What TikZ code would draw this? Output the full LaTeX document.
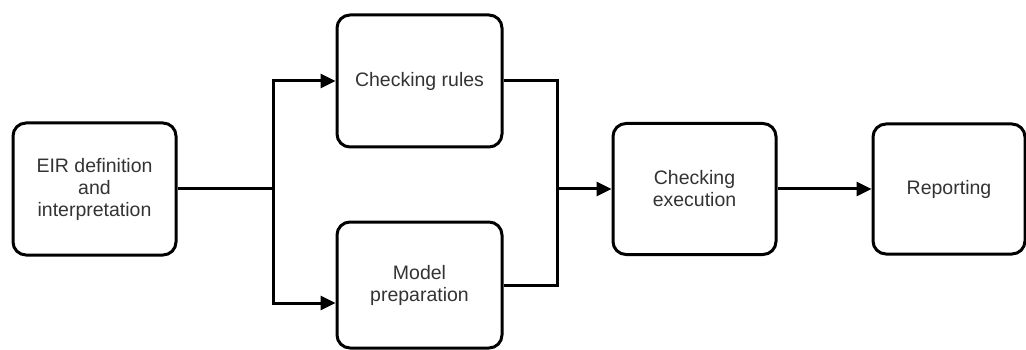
\documentclass[tikz,border=0pt]{standalone}
\usepackage{fontspec}
\setmainfont{Liberation Sans}
\usetikzlibrary{arrows.meta}

\begin{document}
\begin{tikzpicture}[x=1pt,y=-1pt,
  stepbox/.style={draw, line width=3pt, rounded corners=13pt, align=center,
    text=black!80, font=\fontsize{19.5}{22}\selectfont, inner sep=0pt},
  flow/.style={line width=3pt},
  arrowflow/.style={flow, -{Triangle[length=15pt,width=14pt]}}]

% Fix the canvas
\useasboundingbox (0,0) rectangle (1026,350);

% Draw the boxes
\node[stepbox, minimum width=163pt, minimum height=132pt] (eir) at (94.5,189) {EIR definition\\and\\interpretation};
\node[stepbox, minimum width=165pt, minimum height=132pt] (rules) at (419.5,81) {Checking rules};
\node[stepbox, minimum width=165pt, minimum height=126pt] (model) at (419.5,285) {Model\\preparation};
\node[stepbox, minimum width=163pt, minimum height=131pt] (exec) at (694.5,189) {Checking\\execution};
\node[stepbox, minimum width=152pt, minimum height=130pt] (report) at (949,189) {Reporting};

% Draw the split and merge points
\coordinate (split) at (273,189);
\coordinate (merge) at (557,189);

% Draw the connectors
\draw[flow] (eir.east) -- (split);
\draw[arrowflow] (split) |- (rules.west);
\draw[arrowflow] (split) |- ([yshift=-18pt]model.west);
\draw[flow] (rules.east) -| (merge);
\draw[flow] (model.east) -| (merge);
\draw[arrowflow] (merge) -- (exec.west);
\draw[arrowflow] (exec.east) -- (report.west);

\end{tikzpicture}
\end{document}
